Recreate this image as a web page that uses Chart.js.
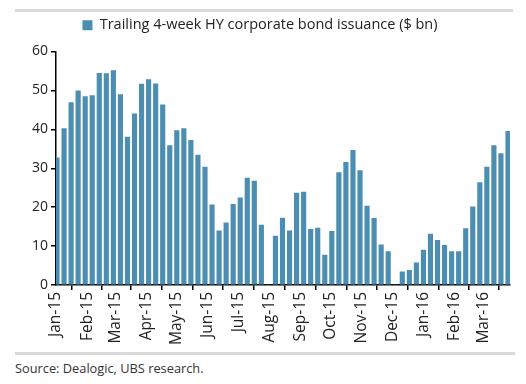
<!DOCTYPE html>
<html>
<head>
<meta charset="utf-8">
<script src="https://cdn.jsdelivr.net/npm/chart.js@4.4.1/dist/chart.umd.min.js"></script>
<style>
    body { margin: 0; background: #fff; font-family: 'Open Sans', sans-serif; }
    #wrap { position: relative; width: 526px; height: 384px; overflow: hidden; }
    #box { position: absolute; left: 0; top: 0; width: 526px; height: 352px; }
    .rule { position: absolute; left: 15px; height: 3px; background: #d9d9d9; }
    #source { position: absolute; left: 15px; top: 359px; font-size: 12.8px; color: #333; }
</style>
</head>
<body>
<div id="wrap">
    <div class="rule" style="top:9px; width:498px;"></div>
    <div id="box"><canvas id="grafico"></canvas></div>
    <div class="rule" style="top:352px; width:500px;"></div>
    <div id="source">Source: Dealogic, UBS research.</div>
</div>
<script>
    // semanas (fim de semana de referencia) e emissao HY em 4 semanas
    const primeiraSemana = '2015-01-02';
    const emissao = [
        32.7, 40.2, 46.9, 49.9, 48.4, 48.7, 54.4, 54.3, 55.1, 48.9,
        38.0, 44.0, 51.6, 52.8, 51.7, 46.3, 35.8, 39.7, 40.2, 37.2,
        33.4, 30.3, 20.6, 13.9, 16.0, 20.7, 22.4, 27.5, 26.7, 15.4,
        0, 12.6, 17.2, 13.9, 23.6, 23.9, 14.3, 14.6, 7.7, 13.8,
        28.9, 31.5, 34.6, 29.4, 20.3, 17.1, 10.3, 8.6, 0, 3.4,
        3.8, 5.7, 9.0, 13.1, 11.5, 10.2, 8.6, 8.6, 14.5, 20.1,
        26.3, 30.3, 35.8, 33.8, 39.5
    ];
    const meses = ['Jan-15', 'Feb-15', 'Mar-15', 'Apr-15', 'May-15', 'Jun-15', 'Jul-15', 'Aug-15',
        'Sep-15', 'Oct-15', 'Nov-15', 'Dec-15', 'Jan-16', 'Feb-16', 'Mar-16'];
    const yTicks = [0, 10, 20, 30, 40, 50, 60];
    const legenda = 'Trailing 4-week HY corporate bond issuance ($ bn)';

    const DIA = 86400000;
    const inicio = Date.UTC(2015, 0, 1);
    const nomesMes = ['Jan','Feb','Mar','Apr','May','Jun','Jul','Aug','Sep','Oct','Nov','Dec'];

    // dias desde 1-jan-2015
    const d0 = Date.parse(primeiraSemana + 'T00:00:00Z');
    const pontos = emissao.map((v, i) => ({ x: (d0 - inicio) / DIA + 7 * i, y: v }));
    const posMeses = meses.map(m => {
        const [nome, ano] = m.split('-');
        return (Date.UTC(2000 + Number(ano), nomesMes.indexOf(nome), 1) - inicio) / DIA;
    });

    const cor = '#4b8eb2';
    const familia = "'Open Sans', sans-serif";

    // espaco extra abaixo da legenda
    const espacoLegenda = {
        id: 'espacoLegenda',
        beforeInit(chart) {
            const fitOriginal = chart.legend.fit;
            chart.legend.fit = function () {
                fitOriginal.call(this);
                this.height += 9;
            };
        }
    };

    new Chart(document.getElementById('grafico'), {
        type: 'bar',
        data: {
            datasets: [{
                label: legenda,
                data: pontos,
                backgroundColor: cor,
                borderWidth: 0,
                barThickness: 4.5
            }]
        },
        plugins: [espacoLegenda],
        options: {
            responsive: true,
            maintainAspectRatio: false,
            animation: false,
            layout: { padding: { left: 10, right: 16, top: 12, bottom: 5 } },
            plugins: {
                legend: {
                    display: true,
                    labels: {
                        boxWidth: 10,
                        boxHeight: 10,
                        color: '#222',
                        font: { family: familia, size: 14.5 },
                        padding: 6
                    }
                },
                tooltip: { enabled: false }
            },
            scales: {
                x: {
                    type: 'linear',
                    min: 0,
                    max: 451,
                    offset: false,
                    afterBuildTicks: (eixo) => { eixo.ticks = posMeses.map(v => ({ value: v })); },
                    afterFit: (eixo) => { eixo.height = 62; },
                    ticks: {
                        autoSkip: false,
                        maxRotation: 90,
                        minRotation: 90,
                        padding: 2,
                        color: '#222',
                        font: { family: familia, size: 15.5 },
                        callback: (v, i) => meses[i]
                    },
                    grid: { drawOnChartArea: false, drawTicks: true, tickLength: 5, color: '#000', lineWidth: 1.5 },
                    border: { display: true, color: '#000', width: 1.5 }
                },
                y: {
                    min: 0,
                    max: 60,
                    afterBuildTicks: (eixo) => { eixo.ticks = yTicks.map(v => ({ value: v })); },
                    afterFit: (eixo) => { eixo.width = 46; },
                    ticks: {
                        padding: 3,
                        color: '#222',
                        font: { family: familia, size: 14 }
                    },
                    grid: { drawOnChartArea: false, drawTicks: true, tickLength: 5, color: '#000', lineWidth: 1.5 },
                    border: { display: true, color: '#000', width: 1.5 }
                }
            }
        }
    });
</script>
</body>
</html>
